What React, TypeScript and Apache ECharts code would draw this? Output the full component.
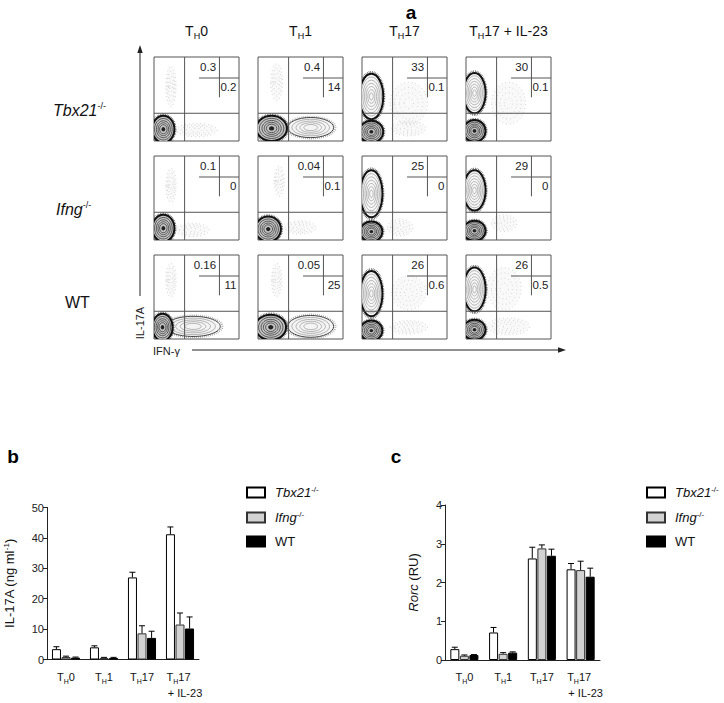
import React, { useEffect, useRef } from 'react';
import * as echarts from 'echarts';

const FONT = 'Liberation Sans, Arial, Helvetica, sans-serif';

// ---------- data ----------
const CONDITIONS = ['TH0', 'TH1', 'TH17', 'TH17 + IL-23'];
const GENOTYPES = ['Tbx21', 'Ifng', 'WT'];

// flow cytometry quadrant percentages (rows: Tbx21, Ifng, WT ; cols: conditions)
const Q_UPPER = [
  ['0.3', '0.4', '33', '30'],
  ['0.1', '0.04', '25', '29'],
  ['0.16', '0.05', '26', '26'],
];
const Q_LOWER = [
  ['0.2', '14', '0.1', '0.1'],
  ['0', '0.1', '0', '0'],
  ['11', '25', '0.6', '0.5'],
];
// gate lines in plot units (0-100): [x1, y1, x2, y2]
const GATE_LINES = [
  [36, 0, 36, 100],
  [0, 33, 100, 33],
  [53, 75, 100, 75],
  [77, 52, 77, 100],
];
// quadrant label anchor points [x, y, which]
const Q_LABEL_POS = [
  [73, 88, 0],
  [97, 64, 1],
];
// cell populations: [cx, cy, rx, ry, kind]  kind 0 dense, 1 light contour, 2 faint cloud, 3 strong contour
const FLOW_BLOBS = [
  // Tbx21-/-
  [[20, 65, 6, 24, 2], [50, 13, 24, 8, 2], [11, 14, 13, 16, 0]],
  [[22, 70, 7, 22, 2], [62, 16, 27, 12, 1], [16, 15, 18, 15, 0]],
  [[55, 45, 22, 25, 2], [55, 15, 20, 9, 2], [11, 53, 14, 27, 3], [11, 11, 14, 13, 0]],
  [[50, 45, 20, 25, 2], [10, 57, 13, 24, 3], [10, 12, 13, 13, 0]],
  // Ifng-/-
  [[20, 65, 6, 20, 2], [45, 12, 20, 8, 2], [11, 14, 13, 16, 0]],
  [[25, 70, 6, 18, 2], [50, 15, 18, 8, 2], [12, 13, 15, 15, 0]],
  [[45, 15, 15, 10, 2], [11, 55, 13, 28, 3], [11, 10, 13, 12, 0]],
  [[45, 20, 15, 10, 2], [10, 59, 13, 24, 3], [10, 11, 13, 12, 0]],
  // WT
  [[20, 70, 6, 20, 2], [46, 15, 32, 12, 1], [10, 14, 12, 16, 0]],
  [[22, 70, 6, 20, 2], [62, 15, 27, 13, 1], [15, 14, 18, 15, 0]],
  [[55, 55, 20, 20, 2], [55, 14, 22, 8, 2], [11, 54, 13, 27, 3], [11, 10, 13, 12, 0]],
  [[45, 60, 20, 25, 2], [50, 15, 25, 10, 2], [10, 59, 13, 26, 3], [10, 11, 13, 12, 0]],
];

// panel b: IL-17A (ng/ml)
const IL17A_TBX21 = [3.4, 4.0, 27.0, 41.2];
const IL17A_IFNG = [0.8, 0.5, 8.6, 11.5];
const IL17A_WT = [0.6, 0.5, 7.1, 10.2];
const IL17A_TBX21_SD = [0.8, 0.5, 1.7, 2.4];
const IL17A_IFNG_SD = [0.3, 0.2, 2.5, 3.8];
const IL17A_WT_SD = [0.2, 0.2, 2.2, 3.8];

// panel c: Rorc (RU)
const RORC_TBX21 = [0.28, 0.71, 2.62, 2.34];
const RORC_IFNG = [0.11, 0.16, 2.88, 2.32];
const RORC_WT = [0.13, 0.19, 2.69, 2.15];
const RORC_TBX21_SD = [0.05, 0.13, 0.29, 0.15];
const RORC_IFNG_SD = [0.02, 0.03, 0.09, 0.23];
const RORC_WT_SD = [0.01, 0.02, 0.17, 0.22];

const IL17A_TICKS = { min: 0, max: 50, interval: 10 };
const RORC_TICKS = { min: 0, max: 4, interval: 1 };

// ---------- layout / style ----------
const COL_LEFT = [154, 258, 362, 466];
const ROW_TOP = [57, 156, 255];
const BOX_W = 85;
const BOX_H = 84;
const BAR_W = 9;
const BAR_STEP = 9.6;
const INK = '#111111';

const BAR_STYLES = [
  { color: '#ffffff', borderColor: '#000', borderWidth: 1 },
  { color: '#d2d2d2', borderColor: '#333', borderWidth: 1 },
  { color: '#000000', borderColor: '#000', borderWidth: 1 },
];

function condRich(label: string, twoLine: boolean): string {
  const m = label.match(/^TH(\S+)(.*)$/);
  if (!m) return label;
  const head = `{t|T}{sb|H}{t|${m[1]}}`;
  const tail = m[2].trim();
  if (!tail) return head;
  return twoLine ? `${head}{sp|}\n{pad|}{t|${tail}}` : `${head}{t| ${tail}}`;
}

function genoRich(name: string): string {
  return name === 'WT' ? `{n|${name}}` : `{i|${name}}{sup|-/-}`;
}

function renderBlob(params: any, api: any) {
  const c = api.coord([api.value(0), api.value(1)]);
  const s = api.size([api.value(2), api.value(3)]);
  const kind = api.value(4);
  const RX = s[0];
  const RY = s[1];
  const el = (k: number, style: any, z2: number) => ({
    type: 'ellipse',
    z2,
    shape: { cx: c[0], cy: c[1], rx: RX * k, ry: RY * k },
    style,
  });
  const children: any[] = [];
  if (kind === 2) {
    children.push(el(1, { fill: 'rgba(0,0,0,0.025)', stroke: null }, 1));
    [1, 0.75, 0.5, 0.25].forEach((k) =>
      children.push(el(k, { fill: 'none', stroke: '#b0b0b0', lineWidth: 0.8, lineDash: [0.6, 3.2] }, 1))
    );
  } else if (kind === 1) {
    children.push(el(1.08, { fill: 'none', stroke: '#888', lineWidth: 2, lineDash: [0.6, 1.4] }, 2));
    children.push(el(1, { fill: '#f4f4f4', stroke: '#444', lineWidth: 1 }, 2));
    [0.82, 0.64, 0.47, 0.3].forEach((k) =>
      children.push(el(k, { fill: 'none', stroke: '#888', lineWidth: 0.6 }, 2))
    );
  } else if (kind === 3) {
    children.push(el(1.07, { fill: 'none', stroke: '#444', lineWidth: 2.4, lineDash: [0.6, 1] }, 3));
    children.push(el(1, { fill: '#f7f7f7', stroke: '#111', lineWidth: 2 }, 3));
    [0.86, 0.72, 0.58, 0.44, 0.3, 0.16].forEach((k) =>
      children.push(el(k, { fill: 'none', stroke: '#8a8a8a', lineWidth: 0.6 }, 3))
    );
  } else {
    children.push(el(1.08, { fill: 'none', stroke: '#444', lineWidth: 2.4, lineDash: [0.6, 1] }, 4));
    children.push(el(1, { fill: '#c4c4c4', stroke: '#111', lineWidth: 2 }, 4));
    [0.8, 0.63, 0.48, 0.34].forEach((k) =>
      children.push(el(k, { fill: 'none', stroke: '#2a2a2a', lineWidth: 0.7 }, 4))
    );
    children.push(el(0.17, { fill: '#222', stroke: null }, 4));
  }
  return { type: 'group', children };
}

function renderGate(params: any, api: any) {
  const a = api.coord([api.value(0), api.value(1)]);
  const b = api.coord([api.value(2), api.value(3)]);
  return {
    type: 'line',
    z2: 10,
    shape: { x1: a[0], y1: a[1], x2: b[0], y2: b[1] },
    style: { stroke: '#555', lineWidth: 1 },
  };
}

function makeQuadLabel(r: number, c: number) {
  return (params: any, api: any) => {
    const p = api.coord([api.value(0), api.value(1)]);
    const text = api.value(2) === 0 ? Q_UPPER[r][c] : Q_LOWER[r][c];
    return {
      type: 'text',
      z2: 11,
      x: p[0],
      y: p[1],
      style: { text, align: 'right', verticalAlign: 'middle', fontSize: 11.5, fontFamily: FONT, fill: '#222' },
    };
  };
}

function makeErr(g: number) {
  return (params: any, api: any) => {
    const i = api.value(0);
    const base = api.coord([i, api.value(1)]);
    const top = api.coord([i, api.value(2)]);
    const x = base[0] + (g - 1) * BAR_STEP;
    return {
      type: 'group',
      children: [
        { type: 'line', shape: { x1: x, y1: base[1], x2: x, y2: top[1] }, style: { stroke: '#000', lineWidth: 1 } },
        { type: 'line', shape: { x1: x - 3, y1: top[1], x2: x + 3, y2: top[1] }, style: { stroke: '#000', lineWidth: 1 } },
      ],
    };
  };
}

const AXIS_RICH = {
  t: { fontSize: 11, lineHeight: 16, fontFamily: FONT, color: INK },
  sb: { fontSize: 7, lineHeight: 7, verticalAlign: 'bottom', fontFamily: FONT, color: INK },
  sp: { width: 3 },
  pad: { width: 10 },
};

const LEGEND_RICH = {
  i: { fontSize: 13, lineHeight: 15, fontStyle: 'italic', fontFamily: FONT, color: INK },
  n: { fontSize: 13, lineHeight: 15, fontFamily: FONT, color: INK },
  sup: { fontSize: 8, lineHeight: 8, verticalAlign: 'top', fontFamily: FONT, color: INK },
};

function buildOption() {
  const grid: any[] = [];
  const xAxis: any[] = [];
  const yAxis: any[] = [];
  const series: any[] = [];

  for (let r = 0; r < 3; r++) {
    for (let c = 0; c < 4; c++) {
      const p = r * 4 + c;
      grid.push({
        left: COL_LEFT[c],
        top: ROW_TOP[r],
        width: BOX_W,
        height: BOX_H,
        show: true,
        borderColor: '#555',
        borderWidth: 1,
        backgroundColor: 'rgba(0,0,0,0)',
      });
      xAxis.push({ gridIndex: p, type: 'value', min: 0, max: 100, show: false });
      yAxis.push({ gridIndex: p, type: 'value', min: 0, max: 100, show: false });
      series.push({
        type: 'custom',
        xAxisIndex: p,
        yAxisIndex: p,
        clip: true,
        silent: true,
        data: FLOW_BLOBS[p],
        renderItem: renderBlob,
      });
      series.push({
        type: 'custom',
        xAxisIndex: p,
        yAxisIndex: p,
        silent: true,
        z: 3,
        data: GATE_LINES,
        renderItem: renderGate,
      });
      series.push({
        type: 'custom',
        xAxisIndex: p,
        yAxisIndex: p,
        silent: true,
        z: 4,
        data: Q_LABEL_POS,
        renderItem: makeQuadLabel(r, c),
      });
    }
  }

  const barPanels = [
    {
      grid: { left: 47, top: 507.5, width: 152, height: 152 },
      ticks: IL17A_TICKS,
      name: '{n|IL-17A (ng ml}{sup|-1}{n|)}',
      nameGap: 30,
      means: [IL17A_TBX21, IL17A_IFNG, IL17A_WT],
      sds: [IL17A_TBX21_SD, IL17A_IFNG_SD, IL17A_WT_SD],
    },
    {
      grid: { left: 445, top: 505, width: 155, height: 155 },
      ticks: RORC_TICKS,
      name: '{i|Rorc}{n| (RU)}',
      nameGap: 24,
      means: [RORC_TBX21, RORC_IFNG, RORC_WT],
      sds: [RORC_TBX21_SD, RORC_IFNG_SD, RORC_WT_SD],
    },
  ];

  barPanels.forEach((bp, k) => {
    const gi = 12 + k;
    grid.push(bp.grid);
    xAxis.push({
      gridIndex: gi,
      type: 'category',
      data: CONDITIONS,
      axisLine: { lineStyle: { color: '#222', width: 1 } },
      axisTick: { alignWithLabel: true, length: 4, lineStyle: { color: '#222' } },
      axisLabel: {
        interval: 0,
        margin: 9,
        color: INK,
        formatter: (v: string) => condRich(v, true),
        rich: AXIS_RICH,
      },
    });
    yAxis.push({
      gridIndex: gi,
      type: 'value',
      min: bp.ticks.min,
      max: bp.ticks.max,
      interval: bp.ticks.interval,
      splitLine: { show: false },
      axisLine: { show: true, lineStyle: { color: '#222', width: 1 } },
      axisTick: { show: true, length: 4, lineStyle: { color: '#222' } },
      axisLabel: { fontSize: 11, fontFamily: FONT, color: '#222', margin: 3 },
      name: bp.name,
      nameLocation: 'middle',
      nameGap: bp.nameGap,
      nameTextStyle: {
        color: INK,
        rich: {
          n: { fontSize: 13, lineHeight: 15, fontFamily: FONT, color: INK },
          i: { fontSize: 13, lineHeight: 15, fontStyle: 'italic', fontFamily: FONT, color: INK },
          sup: { fontSize: 8, lineHeight: 8, verticalAlign: 'top', fontFamily: FONT, color: INK },
        },
      },
    });
    GENOTYPES.forEach((g, gidx) => {
      series.push({
        type: 'bar',
        name: g,
        xAxisIndex: gi,
        yAxisIndex: gi,
        barWidth: BAR_W,
        barGap: '6%',
        itemStyle: BAR_STYLES[gidx],
        data: bp.means[gidx],
        silent: true,
      });
    });
    GENOTYPES.forEach((g, gidx) => {
      series.push({
        type: 'custom',
        xAxisIndex: gi,
        yAxisIndex: gi,
        z: 5,
        silent: true,
        data: bp.means[gidx].map((m, i) => [i, m, m + bp.sds[gidx][i]]),
        renderItem: makeErr(gidx),
      });
    });
  });

  const legendBase = {
    orient: 'vertical',
    data: GENOTYPES,
    icon: 'rect',
    itemWidth: 18,
    itemHeight: 10,
    itemGap: 11,
    padding: 0,
    selectedMode: false,
    formatter: genoRich,
    textStyle: { color: INK, rich: LEGEND_RICH, padding: [0, 0, 0, 5] },
  };

  const titleRich = {
    t: { fontSize: 14, lineHeight: 19, fontFamily: FONT, fill: INK },
    sb: { fontSize: 9, lineHeight: 9, verticalAlign: 'bottom', fontFamily: FONT, fill: INK },
  };
  const rowRich = {
    i: { fontSize: 16, lineHeight: 18, fontStyle: 'italic', fontFamily: FONT, fill: INK },
    n: { fontSize: 16, lineHeight: 18, fontFamily: FONT, fill: INK },
    sup: { fontSize: 9, lineHeight: 9, verticalAlign: 'top', fontFamily: FONT, fill: INK },
  };
  const ROW_LABEL_POS = [
    [53, 110],
    [56, 209],
    [65, 302],
  ];

  const graphic: any[] = [
    { type: 'text', x: 411, y: 12, style: { text: 'a', fontSize: 19, fontWeight: 'bold', fontFamily: FONT, fill: '#000', align: 'center', verticalAlign: 'middle' } },
    { type: 'text', x: 13, y: 456.5, style: { text: 'b', fontSize: 19, fontWeight: 'bold', fontFamily: FONT, fill: '#000', align: 'center', verticalAlign: 'middle' } },
    { type: 'text', x: 396, y: 456.5, style: { text: 'c', fontSize: 19, fontWeight: 'bold', fontFamily: FONT, fill: '#000', align: 'center', verticalAlign: 'middle' } },
    // axis arrows
    { type: 'line', shape: { x1: 140, y1: 296, x2: 140, y2: 50 }, style: { stroke: '#222', lineWidth: 1 } },
    { type: 'polygon', shape: { points: [[140, 45], [137.3, 53], [142.7, 53]] }, style: { fill: '#222' } },
    { type: 'line', shape: { x1: 192, y1: 350, x2: 560, y2: 350 }, style: { stroke: '#222', lineWidth: 1 } },
    { type: 'polygon', shape: { points: [[566, 350], [558, 347.3], [558, 352.7]] }, style: { fill: '#222' } },
    { type: 'text', x: 140, y: 323, rotation: Math.PI / 2, style: { text: 'IL-17A', fontSize: 11, fontFamily: FONT, fill: '#222', align: 'center', verticalAlign: 'middle' } },
    { type: 'text', x: 153, y: 351, style: { text: 'IFN-γ', fontSize: 11, fontFamily: FONT, fill: '#222', align: 'left', verticalAlign: 'middle' } },
  ];
  CONDITIONS.forEach((cnd, c) => {
    graphic.push({
      type: 'text',
      x: COL_LEFT[c] + BOX_W / 2,
      y: 31,
      style: { text: condRich(cnd, false), rich: titleRich, fill: INK, align: 'center', verticalAlign: 'middle', fontFamily: FONT },
    });
  });
  GENOTYPES.forEach((g, r) => {
    graphic.push({
      type: 'text',
      x: ROW_LABEL_POS[r][0],
      y: ROW_LABEL_POS[r][1],
      style: { text: genoRich(g), rich: rowRich, fill: INK, align: 'left', verticalAlign: 'middle', fontFamily: FONT },
    });
  });

  return {
    animation: false,
    backgroundColor: '#fff',
    textStyle: { fontFamily: FONT },
    grid,
    xAxis,
    yAxis,
    series,
    legend: [
      { ...legendBase, left: 246, top: 485 },
      { ...legendBase, left: 646, top: 485 },
    ],
    graphic,
  };
}

export default function App() {
  const ref = useRef<HTMLDivElement>(null);
  useEffect(() => {
    const chart = echarts.init(ref.current as HTMLDivElement, null, { renderer: 'svg' });
    chart.setOption(buildOption() as any);
    return () => chart.dispose();
  }, []);
  return (
    <div
      ref={ref}
      style={{ position: 'fixed', left: 0, top: 0, width: 724, height: 703, background: '#fff' }}
    />
  );
}
